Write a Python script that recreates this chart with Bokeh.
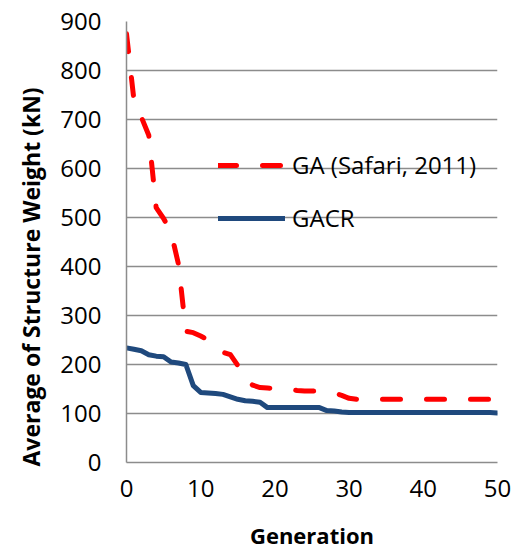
from bokeh.plotting import figure
from bokeh.models import Range1d, Legend, LegendItem, Title, FixedTicker, ColumnDataSource
from bokeh.embed import file_html
from bokeh.resources import INLINE

generation = list(range(51))
ga_safari = [875, 740, 705, 668, 520, 498, 470, 405, 268, 265,
             258, 250, 235, 225, 220, 198, 168, 158, 153, 152,
             151, 151, 149, 147, 146, 146, 145, 145, 142, 137,
             131, 129, 129, 129, 129, 129, 129, 129, 129, 129,
             129, 129, 129, 129, 129, 129, 129, 129, 129, 129,
             129]
gacr = [234, 231, 228, 220, 217, 216, 205, 203, 200, 157,
        143, 142, 141, 139, 134, 129, 126, 125, 123, 112,
        112, 112, 112, 112, 112, 112, 112, 106, 105, 103,
        102, 102, 102, 102, 102, 102, 102, 102, 102, 102,
        102, 102, 102, 102, 102, 102, 102, 102, 102, 102,
        101]
x_ticks = [0, 10, 20, 30, 40, 50]
y_ticks = [0, 100, 200, 300, 400, 500, 600, 700, 800, 900]
series_names = ["GA (Safari, 2011)", "GACR"]
x_title = "Generation"
y_title = "Average of Structure Weight (kN)"

src = ColumnDataSource(dict(g=generation, ga=ga_safari, gacr=gacr))

FONT = "Open Sans"
GRID = "#8c8c8c"

p = figure(width=511, height=552, output_backend="svg", toolbar_location=None,
           x_range=Range1d(0, 50), y_range=Range1d(0, 900),
           min_border_left=126, min_border_right=14, min_border_top=21,
           min_border_bottom=90)
p.outline_line_color = None
p.background_fill_color = "white"
p.border_fill_color = "white"

p.xgrid.grid_line_color = None
p.ygrid.grid_line_color = GRID
p.ygrid.grid_line_width = 1.5
p.ygrid.ticker = FixedTicker(ticks=y_ticks)

p.xaxis.ticker = FixedTicker(ticks=x_ticks)
p.yaxis.ticker = FixedTicker(ticks=y_ticks)
for ax in (p.xaxis[0], p.yaxis[0]):
    ax.axis_line_color = GRID
    ax.axis_line_width = 1.5
    ax.major_tick_line_color = None
    ax.minor_tick_line_color = None
    ax.major_tick_out = 0
    ax.major_tick_in = 0
    ax.major_label_text_font = FONT
    ax.major_label_text_font_size = "24px"
    ax.major_label_text_color = "black"

p.xaxis.major_label_standoff = 17
p.yaxis.major_label_standoff = 25
p.xaxis.axis_label = x_title
p.xaxis.axis_label_text_font = FONT
p.xaxis.axis_label_text_font_size = "22px"
p.xaxis.axis_label_text_font_style = "bold"
p.xaxis.axis_label_text_color = "black"
p.xaxis.axis_label_standoff = 20

r_ga = p.line("g", "ga", source=src, line_color="#ff0000", line_width=5,
              line_dash="18 26", line_cap="round", line_join="round")
r_gacr = p.line("g", "gacr", source=src, line_color="#1f497d", line_width=5,
                line_cap="round", line_join="round")

legend = Legend(items=[LegendItem(label=series_names[0], renderers=[r_ga]),
                       LegendItem(label=series_names[1], renderers=[r_gacr])],
                location=(92, 228))
legend.border_line_color = None
legend.background_fill_alpha = 0
legend.padding = 0
legend.margin = 0
legend.spacing = 20
legend.glyph_width = 67
legend.glyph_height = 30
legend.label_height = 30
legend.label_standoff = 7
legend.label_text_font = FONT
legend.label_text_font_size = "24px"
legend.label_text_color = "black"
p.add_layout(legend, "center")

ytitle = Title(text=y_title, align="left", offset=-4, standoff=22,
               text_line_height=0.8,
               text_font=FONT, text_font_size="23px", text_font_style="bold",
               text_color="black")
p.add_layout(ytitle, "left")

open("out.html", "w").write(file_html(p, INLINE))
